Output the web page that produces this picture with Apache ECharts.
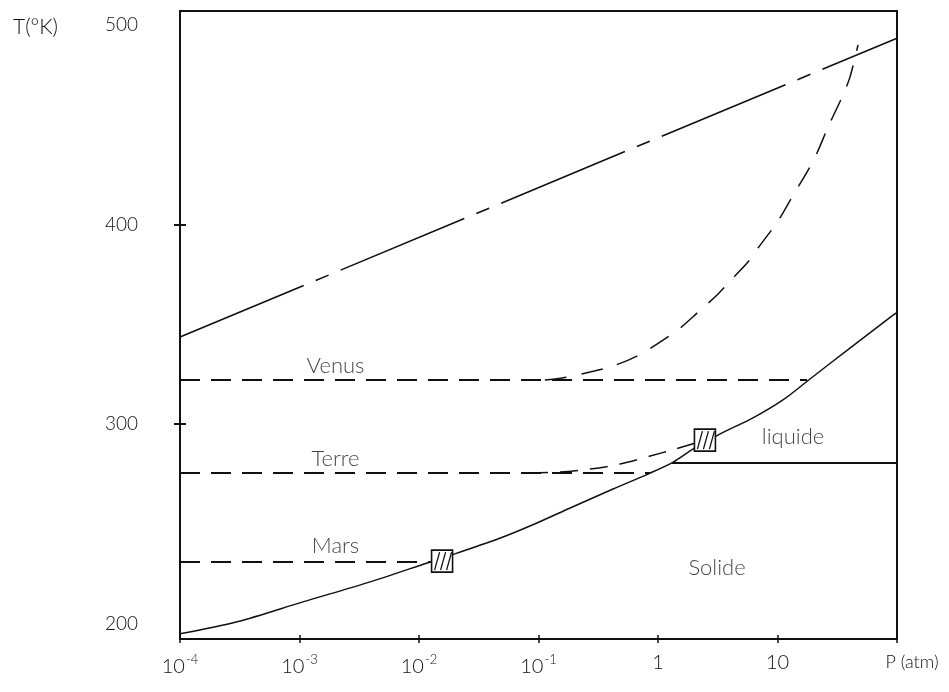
<!DOCTYPE html>
<html>
<head>
<meta charset="utf-8">
<script src="https://cdn.jsdelivr.net/npm/echarts@6/dist/echarts.min.js"></script>
<style>
  html, body { margin: 0; padding: 0; background: #fff; }
  #chart { width: 949px; height: 692px; }
</style>
</head>
<body>
<div id="chart"></div>
<script>
// pressure in atm (log axis), temperature in K
const upperP = [1e-4, 100];
const upperT = [343.6, 493.3];

const curveP = [1e-4, 3.0e-4, 1.07e-3, 3.9e-3, 1.24e-2, 2.08e-2, 5.05e-2, 9.7e-2, 0.184, 0.42, 0.86, 1.34, 1.96, 3.44, 6.24, 11.1, 18.7, 40.4, 92.7, 100];
const curveT = [195, 201, 211, 221, 231, 235.4, 243.5, 250.5, 258, 267.5, 275.5, 281, 287.5, 295.6, 303.1, 312.1, 322.6, 338.1, 354.6, 356];

const meltP = [1.31, 100];
const meltT = [280.5, 280.5];

const venusP = [0.113, 0.157, 0.27, 0.42, 0.667, 0.98, 1.53, 2.12, 3.12, 4.01, 5.66, 6.87, 9.17, 11.1, 13.7, 17.3, 21.4, 26.5, 34.7, 40.4, 47.2];
const venusT = [322.1, 323.1, 326.1, 329.1, 334.1, 340.1, 348.1, 355.6, 364.7, 371.7, 381.2, 388.2, 398.2, 405.7, 415.3, 425.3, 435.8, 448.8, 463.8, 473.8, 489.9];

const terreP = [0.085, 0.151, 0.27, 0.48, 0.86, 1.39, 2.04];
const terreT = [275.5, 276, 277.5, 280, 284, 287.5, 290.5];

const planets = ['Venus', 'Terre', 'Mars'];
const planetT = [322.1, 275.5, 230.9];
const planetEndP = [17.7, 0.86, 1.24e-2];

// hatched boxes (Mars, Terre)
const boxP = [1.56e-2, 2.47];
const boxT = [231.4, 292];

const notes = ['Venus', 'Terre', 'Mars', 'liquide', 'Solide'];
const noteP = [2.0e-3, 2.0e-3, 2.0e-3, 13.5, 3.12];
const noteT = [329, 282.5, 239, 293.5, 228];

const yTicks = [200, 300, 400, 500];
const xTickLabels = ['{b|10}{s|-4}', '{b|10}{s|-3}', '{b|10}{s|-2}', '{b|10}{s|-1}', '{b|1}', '{b|10}', '{p|P (atm)}'];

const zip = (xs, ys) => xs.map((x, i) => [x, ys[i]]);

const font = 'Lato';
const black = '#111';

const chart = echarts.init(document.getElementById('chart'));

const lineBase = {type: 'line', symbol: 'none', silent: true, z: 3};

const series = [
  {...lineBase, data: zip(upperP, upperT), lineStyle: {color: black, width: 1.6, type: [134, 13, 14, 13]}},
  {...lineBase, data: zip(curveP, curveT), smooth: 0.3, lineStyle: {color: black, width: 1.5}},
  {...lineBase, data: zip(meltP, meltT), lineStyle: {color: black, width: 2}},
  {...lineBase, data: zip(venusP, venusT), smooth: 0.3, lineStyle: {color: black, width: 1.5, type: [22, 15]}},
  {...lineBase, data: zip(terreP, terreT), smooth: 0.3, lineStyle: {color: black, width: 1.5, type: [18, 12]}},
];

planets.forEach((name, i) => {
  series.push({
    ...lineBase,
    name: name,
    data: [[1e-4, planetT[i]], [planetEndP[i], planetT[i]]],
    lineStyle: {color: black, width: 2, type: [20, 11]}
  });
});

// hatched square drawn around the point given by the axes
series.push({
  type: 'custom',
  silent: true,
  z: 5,
  data: zip(boxP, boxT),
  renderItem: function (params, api) {
    const c = api.coord([api.value(0), api.value(1)]);
    const w = 21, h = 22;
    const x0 = c[0] - w / 2, y0 = c[1] - h / 2;
    const kids = [{
      type: 'rect',
      shape: {x: x0, y: y0, width: w, height: h},
      style: {fill: '#fff', stroke: black, lineWidth: 1.6}
    }];
    [3, 9, 15].forEach(dx => {
      kids.push({
        type: 'line',
        shape: {x1: x0 + dx, y1: y0 + h - 2, x2: x0 + dx + 5, y2: y0 + 2},
        style: {stroke: black, lineWidth: 1.3}
      });
    });
    return {type: 'group', children: kids};
  }
});

series.push({
  type: 'scatter',
  silent: true,
  z: 6,
  symbolSize: 0,
  data: notes.map((n, i) => ({name: n, value: [noteP[i], noteT[i]]})),
  label: {show: true, position: 'inside', formatter: '{b}', color: black, fontFamily: font, fontWeight: 300, fontSize: 22}
});

const axisFont = {fontFamily: font, fontWeight: 300, color: black};

chart.setOption({
  animation: false,
  backgroundColor: '#fff',
  grid: {left: 180, right: 52, top: 11, bottom: 53, show: true, borderColor: black, borderWidth: 2},
  xAxis: [
    {
      type: 'log', logBase: 10, min: 1e-4, max: 100,
      axisLine: {lineStyle: {color: black, width: 2}},
      axisTick: {show: true, length: 4, lineStyle: {color: black, width: 1.5}},
      splitLine: {show: false},
      axisLabel: {
        margin: 14,
        showMinLabel: true, showMaxLabel: true,
        formatter: (v) => xTickLabels[Math.round(Math.log10(v)) + 4],
        rich: {
          b: {...axisFont, fontSize: 20},
          s: {...axisFont, fontSize: 13, padding: [0, 0, 14, 1]},
          p: {...axisFont, fontSize: 18, padding: [0, 0, 0, 30]}
        }
      }
    },
    {
      type: 'log', logBase: 10, min: 1e-4, max: 100, gridIndex: 0, position: 'bottom',
      axisLine: {show: false},
      axisTick: {show: true, inside: true, length: 4, lineStyle: {color: black, width: 1.5}},
      axisLabel: {show: false},
      splitLine: {show: false}
    }
  ],
  yAxis: [
    {
      type: 'value', min: 192.4, max: 506.9,
      name: 'T(°K)', nameLocation: 'end', nameGap: -16,
      nameTextStyle: {...axisFont, fontSize: 21, align: 'right', verticalAlign: 'middle', padding: [0, 122, 0, 0]},
      axisLine: {show: true, lineStyle: {color: black, width: 2}},
      axisTick: {show: true, length: 6, customValues: [300, 400], lineStyle: {color: black, width: 2}},
      axisLabel: {margin: 42, customValues: yTicks, ...axisFont, fontSize: 19},
      splitLine: {show: false}
    },
    {
      type: 'value', min: 192.4, max: 506.9, position: 'left',
      axisLine: {show: false},
      axisTick: {show: true, inside: true, length: 6, customValues: [300, 400], lineStyle: {color: black, width: 2}},
      axisLabel: {show: false},
      splitLine: {show: false}
    }
  ],
  series: series
});
</script>
</body>
</html>
